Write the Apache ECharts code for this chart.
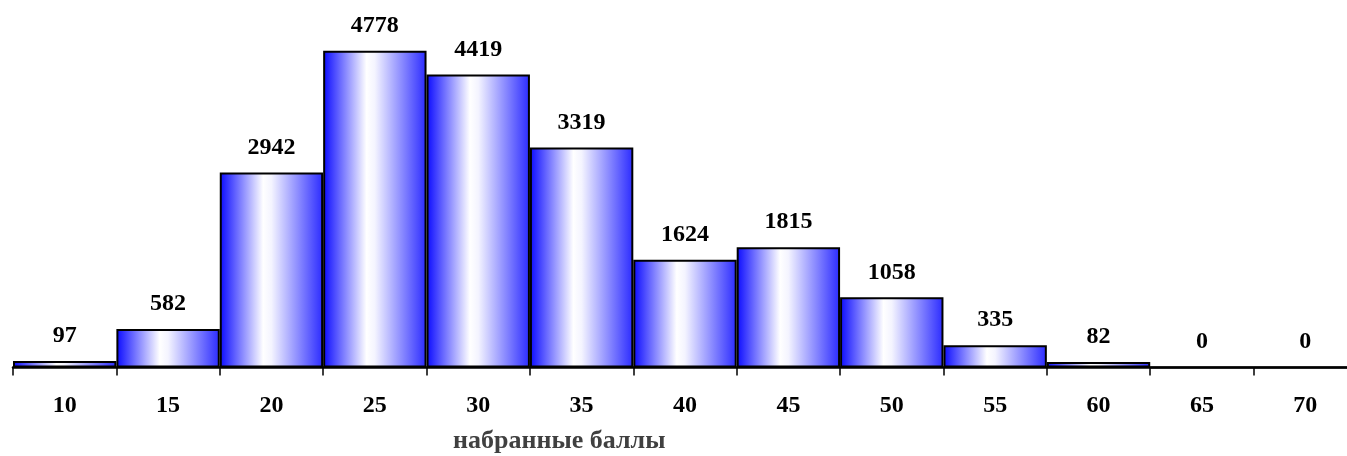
<!DOCTYPE html>
<html>
<head>
<meta charset="utf-8">
<script src="https://cdn.jsdelivr.net/npm/echarts@6/dist/echarts.min.js"></script>
<style>
html,body{margin:0;padding:0;background:#fff;}
#chart{width:1347px;height:456px;}
</style>
</head>
<body>
<div id="chart"></div>
<script>
var categories = ['10','15','20','25','30','35','40','45','50','55','60','65','70'];
var counts = [97, 582, 2942, 4778, 4419, 3319, 1624, 1815, 1058, 335, 82, 0, 0];
var axisName = 'набранные баллы';

var chart = echarts.init(document.getElementById('chart'));
var font = '"Liberation Serif", "Times New Roman", serif';
chart.setOption({
  animation: false,
  backgroundColor: '#ffffff',
  grid: { left: 13, width: 1344, top: 36, bottom: 88.5, containLabel: false, outerBoundsMode: 'none' },
  xAxis: {
    type: 'category',
    data: categories,
    boundaryGap: true,
    axisLine: { lineStyle: { color: '#000', width: 2.5 } },
    axisTick: { show: true, length: 8, lineStyle: { color: '#000', width: 1.5 } },
    axisLabel: { margin: 26, color: '#000', fontFamily: font, fontWeight: 'bold', fontSize: 24 }
  },
  yAxis: {
    type: 'value', min: 0, max: 5000,
    show: false,
    splitLine: { show: false }
  },
  graphic: [{
    type: 'text', left: 453, top: 428,
    style: { text: axisName, fill: '#404040', font: 'bold 26px ' + font }
  }],
  series: [{
    type: 'bar',
    data: counts,
    barCategoryGap: '0%',
    itemStyle: {
      borderColor: '#000', borderWidth: 2,
      color: new echarts.graphic.LinearGradient(0, 0, 1, 0, [
        { offset: 0, color: '#0a0aff' },
        { offset: 0.42, color: '#ffffff' },
        { offset: 0.5, color: '#f4f4ff' },
        { offset: 1, color: '#2a2aff' }
      ])
    },
    label: {
      show: true, position: 'top', distance: 13,
      color: '#000', fontFamily: font, fontWeight: 'bold', fontSize: 24
    }
  }]
});
</script>
</body>
</html>
